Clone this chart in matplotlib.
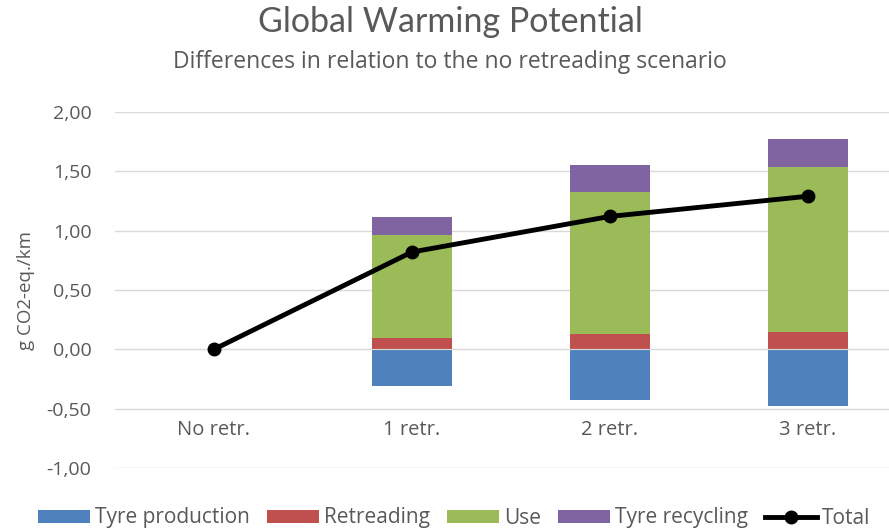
import numpy as np
import matplotlib.pyplot as plt

plt.rcParams["font.family"] = ["Open Sans", "DejaVu Sans"]

scenarios = ["No retr.", "1 retr.", "2 retr.", "3 retr."]
tyre_production = [0.0, -0.31, -0.425, -0.477]
retreading = [0.0, 0.094, 0.13, 0.148]
use = [0.0, 0.866, 1.20, 1.385]
tyre_recycling = [0.0, 0.155, 0.223, 0.239]
total = [0.0, 0.82, 1.12, 1.29]
yticks = [-1.0, -0.5, 0.0, 0.5, 1.0, 1.5, 2.0]

grey = "#595959"
colors = ["#4F81BD", "#C0504D", "#9BBB59", "#8064A2"]

fig = plt.figure(figsize=(8.89, 5.30), dpi=100)
ax = fig.add_axes([115 / 889, 62 / 530, 1 - 115 / 889, (468 - 112) / 530])

x = np.arange(len(scenarios))
w = 0.404

ax.bar(x, tyre_production, w, color=colors[0], label="Tyre production", zorder=2)
ax.bar(x, retreading, w, color=colors[1], label="Retreading", zorder=2)
bottom = np.array(retreading)
ax.bar(x, use, w, bottom=bottom, color=colors[2], label="Use", zorder=2)
bottom = bottom + np.array(use)
ax.bar(x, tyre_recycling, w, bottom=bottom, color=colors[3], label="Tyre recycling", zorder=2)
ax.plot(x, total, color="black", lw=3.5, marker="o", ms=9, label="Total", zorder=3)

ax.set_xlim(-0.5, 3.41)
ax.set_ylim(-1.0, 2.0)
ax.set_yticks(yticks)
ax.set_yticklabels([f"{v:.2f}".replace(".", ",") for v in yticks])
ax.set_xticks([])
# category labels sit below the negative bars
for xi, name in zip(x, scenarios):
    ax.text(xi, -0.68, name, ha="center", va="center", fontsize=14.5, color=grey)
ax.tick_params(axis="both", length=0, labelsize=14, colors=grey)
ax.tick_params(axis="y", pad=17)
ax.grid(axis="y", color="#D9D9D9", lw=1, zorder=0)
for s in ["top", "right", "left"]:
    ax.spines[s].set_visible(False)
ax.spines["bottom"].set_position(("data", 0))
ax.spines["bottom"].set_color("#D9D9D9")
ax.set_ylabel("g CO2-eq./km", fontsize=13.5, color=grey, labelpad=8)

fig.text(450 / 889, 1 - 22 / 530, "Global Warming Potential", ha="center", va="center",
         fontsize=24.5, color=grey, family=["Lato", "DejaVu Sans"])
fig.text(450 / 889, 1 - 62 / 530, "Differences in relation to the no retreading scenario",
         ha="center", va="center", fontsize=16.5, color=grey)

handles, labels = ax.get_legend_handles_labels()
handles = handles[1:] + handles[:1]
labels = labels[1:] + labels[:1]
fig.legend(handles, labels, loc="center", bbox_to_anchor=(454 / 889, 1 - 518 / 530), ncol=5,
           frameon=False, fontsize=15, handlelength=2.5, handleheight=0.6, handletextpad=0.25,
           columnspacing=0.8, labelcolor=grey)

fig.savefig("out.png", dpi=100)
